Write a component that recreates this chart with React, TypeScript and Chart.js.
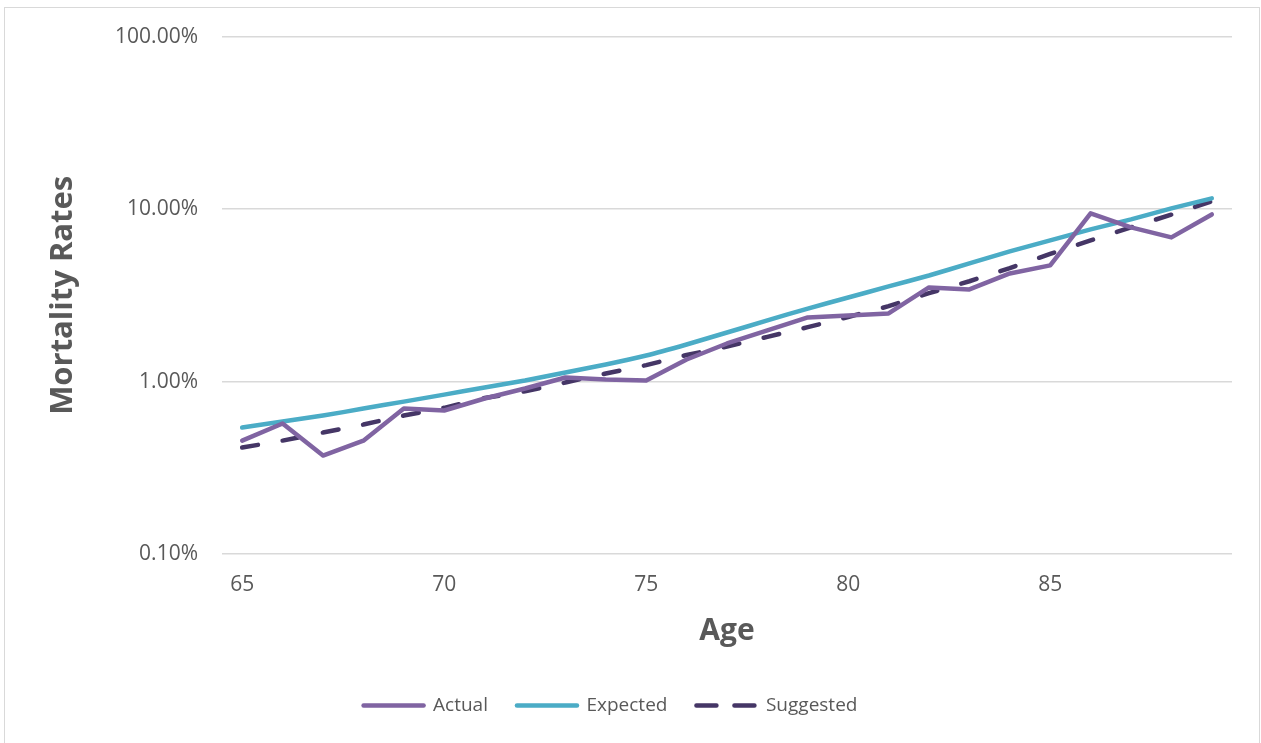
import React, { useEffect, useRef } from "react";
import { Chart, registerables } from "chart.js";

Chart.register(...registerables);

const ages: string[] = [
  "65", "66", "67", "68", "69", "70", "71", "72", "73", "74", "75", "76", "77",
  "78", "79", "80", "81", "82", "83", "84", "85", "86", "87", "88", "89",
];

// mortality rates in percent
const actual: number[] = [
  0.454, 0.571, 0.372, 0.454, 0.698, 0.679, 0.797, 0.911, 1.055, 1.027, 1.013,
  1.342, 1.662, 1.977, 2.352, 2.415, 2.481, 3.512, 3.42, 4.235, 4.713, 9.44,
  7.83, 6.85, 9.31,
];

const expected: number[] = [
  0.541, 0.586, 0.635, 0.697, 0.765, 0.84, 0.923, 1.013, 1.128, 1.255, 1.415,
  1.64, 1.924, 2.26, 2.65, 3.07, 3.56, 4.12, 4.84, 5.68, 6.58, 7.62, 8.71,
  10.09, 11.54,
];

const suggested: number[] = [
  0.414, 0.4545, 0.506, 0.563, 0.635, 0.704, 0.802, 0.877, 0.987, 1.113, 1.245,
  1.425, 1.596, 1.815, 2.066, 2.368, 2.735, 3.254, 3.815, 4.55, 5.5, 6.58, 7.84,
  9.28, 11.08,
];

const yTickValues: number[] = [0.1, 1, 10, 100];
const xLabelEvery = 5;

const TEXT = "#595959";
const FONT = "'Open Sans', 'Liberation Sans', sans-serif";
const LINE_W = 4.5;

const legendShift = {
  id: "legendShift",
  afterLayout(chart: any) {
    const l = chart.legend;
    if (l) {
      l.left -= 13;
      l.right -= 13;
    }
  },
};

export default function App() {
  const canvasRef = useRef<HTMLCanvasElement | null>(null);

  useEffect(() => {
    const canvas = canvasRef.current;
    if (!canvas) return;
    const chart = new Chart(canvas, {
      type: "line",
      plugins: [legendShift],
      data: {
        labels: ages,
        datasets: [
          {
            label: "Actual",
            data: actual,
            borderColor: "#8064A2",
            backgroundColor: "#8064A2",
            borderWidth: LINE_W,
            borderCapStyle: "round",
            borderJoinStyle: "round",
            pointRadius: 0,
            tension: 0,
          },
          {
            label: "Expected",
            data: expected,
            borderColor: "#4BACC6",
            backgroundColor: "#4BACC6",
            borderWidth: LINE_W,
            borderCapStyle: "round",
            borderJoinStyle: "round",
            pointRadius: 0,
            tension: 0.2,
          },
          {
            label: "Suggested",
            data: suggested,
            borderColor: "#453666",
            backgroundColor: "#453666",
            borderWidth: LINE_W,
            borderCapStyle: "round",
            borderJoinStyle: "round",
            borderDash: [16, 25],
            pointRadius: 0,
            tension: 0,
          },
        ],
      },
      options: {
        animation: false,
        responsive: false,
        layout: { padding: { left: 15, top: 28, right: 29, bottom: 18 } },
        plugins: {
          tooltip: { enabled: false },
          legend: {
            position: "bottom",
            labels: {
              usePointStyle: true,
              pointStyle: "line",
              pointStyleWidth: 60,
              boxWidth: 60,
              padding: 29,
              color: TEXT,
              font: { family: FONT, size: 19 },
              generateLabels: (c: any) =>
                c.data.datasets.map((ds: any, i: number) => ({
                  text: ds.label,
                  fillStyle: ds.borderColor,
                  strokeStyle: ds.borderColor,
                  lineWidth: LINE_W,
                  lineCap: "round",
                  lineDash: ds.borderDash ? [20, 18] : [],
                  pointStyle: "line",
                  hidden: false,
                  datasetIndex: i,
                  fontColor: TEXT,
                })),
            },
          },
        },
        scales: {
          x: {
            type: "category",
            offset: true,
            grid: { display: false, drawTicks: false },
            border: { display: false },
            ticks: {
              autoSkip: false,
              maxRotation: 0,
              padding: 18,
              color: TEXT,
              font: { family: FONT, size: 21 },
              callback: (_v: any, i: number) => (i % xLabelEvery === 0 ? ages[i] : ""),
            },
            title: {
              display: true,
              text: "Age",
              color: TEXT,
              font: { family: FONT, size: 30, weight: "bold" },
              padding: { top: 0, bottom: 18 },
            },
            afterFit: (s: any) => {
              s.height = 113;
            },
          },
          y: {
            type: "logarithmic",
            min: 0.1,
            max: 100,
            grid: { color: "#D9D9D9", lineWidth: 1.5, drawTicks: false },
            border: { display: false },
            afterBuildTicks: (s: any) => {
              s.ticks = yTickValues.map((v) => ({ value: v }));
            },
            ticks: {
              padding: 24,
              color: TEXT,
              font: { family: FONT, size: 21 },
              callback: (v: any) => Number(v).toFixed(2) + "%",
            },
            title: {
              display: true,
              text: "Mortality Rates",
              color: TEXT,
              font: { family: FONT, size: 31, weight: "bold" },
              padding: { top: 30, bottom: 0 },
            },
            afterFit: (s: any) => {
              s.width = 207;
            },
          },
        },
      },
    });
    return () => chart.destroy();
  }, []);

  return (
    <div
      style={{
        position: "fixed",
        left: 0,
        top: 0,
        width: 1261,
        height: 743,
        overflow: "hidden",
        background: "#fff",
      }}
    >
      <div
        style={{
          position: "absolute",
          left: 4,
          top: 7,
          width: 1256,
          height: 800,
          border: "1px solid #D9D9D9",
          boxSizing: "border-box",
        }}
      />
      <canvas
        ref={canvasRef}
        width={1261}
        height={743}
        style={{ position: "absolute", left: 0, top: 0, display: "block" }}
      />
    </div>
  );
}
